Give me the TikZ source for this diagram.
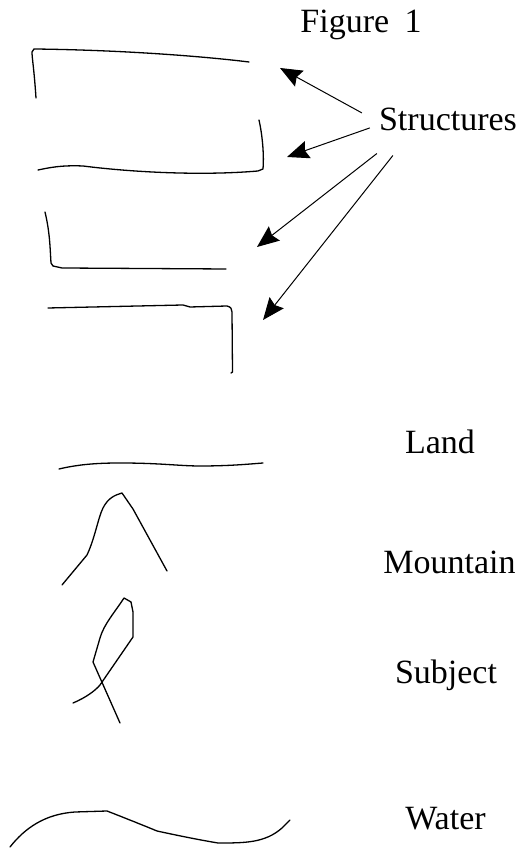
\documentclass[tikz,border=0pt]{standalone}
\usepackage{fontspec}
\setmainfont{Liberation Serif}
\usepackage{xcolor}
\usepackage{tikz}
\usetikzlibrary{positioning,arrows.meta}

\begin{document}
\begin{tikzpicture}[x=1pt, y=1pt,
        word/.style={anchor=base, inner sep=0pt, font=\fontsize{34}{40}\selectfont},
        sketch/.style={line width=1.3pt, line join=round, line cap=round},
        arr/.style={line width=1pt, -{Stealth[length=22pt, width=18pt, inset=3pt]}}]
        \useasboundingbox (0,0) rectangle (522,848);

        % labels
        \node[word] (fig) at (361,815) {Figure\hspace{0.45em}1};
        \node[word] (struct) at (448,717) {Structures};
        \node[word] (land) at (440,394) {Land};
        \node[word] (mount) at (449.5,274) {Mountain};
        \node[word] (subj) at (446,164) {Subject};
        \node[word] (water) at (445.5,18) {Water};

        % arrow ends
        \coordinate (st1) at ([shift={(-17,7)}]struct.west);
        \coordinate (st2) at ([shift={(-9,-8)}]struct.west);
        \coordinate (st3) at ([shift={(-2,-22)}]struct.south west);
        \coordinate (st4) at ([shift={(14,-24)}]struct.south west);
        \coordinate (tip1) at (280,780);
        \coordinate (tip2) at (287,691);
        \coordinate (tip3) at (257,601);
        \coordinate (tip4) at (263,528);

        \draw[arr] (st1) -- (tip1);
        \draw[arr] (st2) -- (tip2);
        \draw[arr] (st3) -- (tip3);
        \draw[arr] (st4) -- (tip4);

        % structures
        \draw[sketch] (36,750) .. controls (34,780) and (32,790) .. (32,796) -- (34,799)
            .. controls (120,798) and (200,792) .. (249,786);
        \draw[sketch] (259,728) .. controls (263,710) and (264,690) .. (263,679) -- (258,677)
            .. controls (200,672) and (130,676) .. (83,682) .. controls (60,683) and (48,680) .. (38,678);
        \draw[sketch] (45,636) .. controls (50,615) and (50,600) .. (51,585) -- (53,582) -- (62,580) -- (226,579);
        \draw[sketch] (48,540) -- (183,543) -- (190,541) -- (227,542)
            .. controls (231,541) and (232,539) .. (232,536) -- (232.5,476) -- (231,475);

        % land
        \draw[sketch] (59,379) .. controls (80,384) and (100,385) .. (120,385)
            .. controls (160,385) and (180,382) .. (200,382) .. controls (230,382) and (250,384) .. (263,385);

        % mountain
        \draw[sketch] (62,263) -- (87,293) .. controls (95,310) and (98,330) .. (103,340)
            .. controls (108,350) and (115,353) .. (122,355) -- (133,339) -- (167,277);

        % subject
        \draw[sketch] (73,145) .. controls (85,150) and (95,157) .. (100,163) -- (133,211) -- (133,236)
            -- (131,246) -- (124,250) .. controls (115,236) and (104,224) .. (100,210) -- (93,186) -- (120,125);

        % water
        \draw[sketch] (10,1) .. controls (25,20) and (45,34) .. (75,36) -- (107,37)
            .. controls (125,30) and (145,22) .. (157,17) .. controls (180,12) and (200,8) .. (218,5)
            .. controls (245,5) and (265,5) .. (282,20) -- (290,28);
\end{tikzpicture}
\end{document}
